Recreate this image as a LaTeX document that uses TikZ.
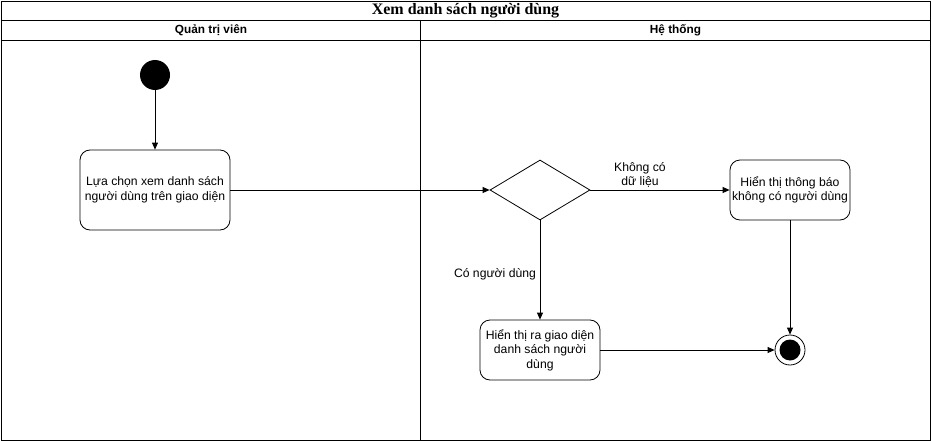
\documentclass[tikz,border=0pt]{standalone}
\usepackage{fontspec}
\setmainfont{Liberation Sans}
\newfontfamily\titlefont{Liberation Serif}
\usetikzlibrary{arrows.meta,shapes.geometric}
\begin{document}
\begin{tikzpicture}[x=1pt,y=-1pt,
  lane/.style={draw=black,line width=0.8pt},
  act/.style={draw=black,line width=0.8pt,rounded corners=10pt,align=center,font=\fontsize{12.2}{14.5}\selectfont,inner sep=0pt},
  conn/.style={draw=black,line width=0.8pt,-{Triangle[length=7pt,width=6pt]}},
  lbl/.style={font=\fontsize{12.2}{14.5}\selectfont,align=center,inner sep=0pt},
  hdr/.style={font=\bfseries\fontsize{11.8}{13}\selectfont,inner sep=0pt}]
\useasboundingbox (0,0) rectangle (931,441);
% frame
\draw[lane] (1,1) rectangle (930,440);
\draw[lane] (1,20) -- (930,20);
\draw[lane] (1,40) -- (930,40);
\draw[lane] (420,20) -- (420,440);
\node[inner sep=0pt,font=\titlefont\bfseries\fontsize{16}{18}\selectfont] (title) at (465.5,11) {Xem danh sách người dùng};
\node[hdr] (h1) at (211,30) {Quản trị viên};
\node[hdr] (h2) at (675.5,30) {Hệ thống};
% nodes
\node[circle,fill=black,minimum size=30pt,inner sep=0pt] (start) at (155,75) {};
\node[act,minimum width=150pt,minimum height=80pt] (a1) at (155,190) {Lựa chọn xem danh sách\\người dùng trên giao diện};
\node[diamond,draw=black,line width=0.8pt,minimum width=100pt,minimum height=60pt,inner sep=0pt] (d) at (540,190) {};
\node[act,minimum width=120pt,minimum height=60pt] (a2) at (790,190) {Hiển thị thông báo\\không có người dùng};
\node[act,minimum width=120pt,minimum height=60pt] (a3) at (540,350) {Hiển thị ra giao diện\\danh sách người\\dùng};
\node[circle,draw=black,line width=0.8pt,minimum size=30pt,inner sep=0pt] (end) at (790,350) {};
\node[circle,fill=black,minimum size=21pt,inner sep=0pt] (endin) at (790,350) {};
% connectors
\draw[conn] (start) -- (a1);
\draw[conn] (a1.east) -- (d.west);
\draw[conn] (d.east) -- (a2.west);
\draw[conn] (d.south) -- (a3.north);
\draw[conn] (a3.east) -- (end.west);
\draw[conn] (a2.south) -- (end.north);
% labels
\node[lbl] (l1) at (640,175) {Không có\\dữ liệu};
\node[lbl] (l2) at (495,274) {Có người dùng};
\end{tikzpicture}
\end{document}
